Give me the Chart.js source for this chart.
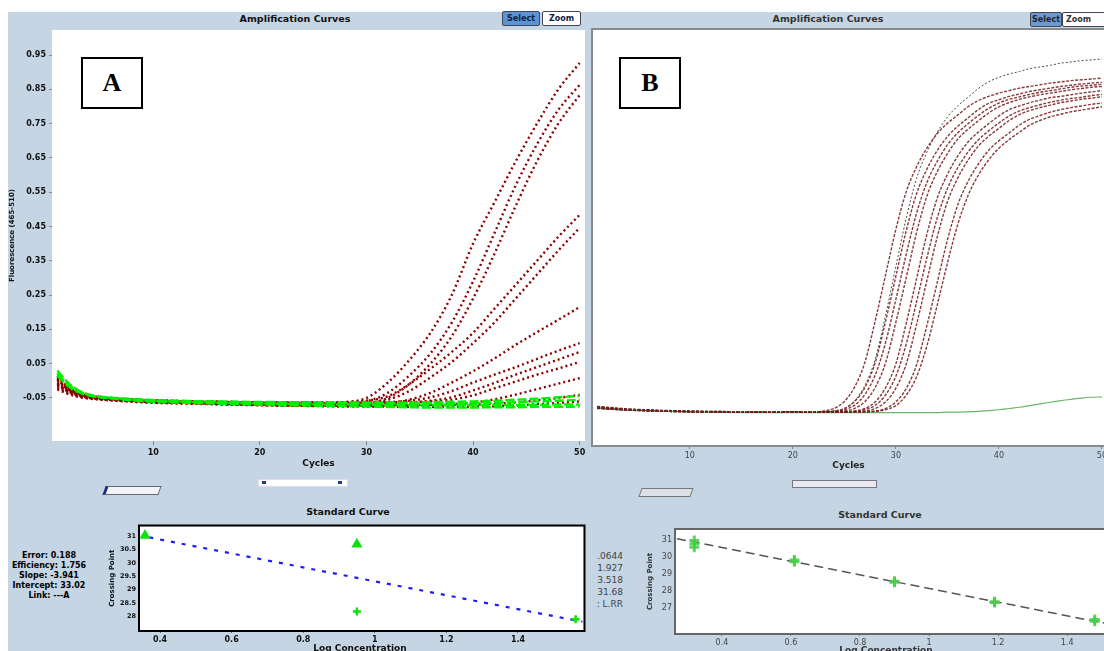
<!DOCTYPE html>
<html>
<head>
<meta charset="utf-8">
<script src="https://cdn.jsdelivr.net/npm/chart.js@4.4.1/dist/chart.umd.min.js"></script>
<style>
body{margin:0;width:1104px;height:651px;overflow:hidden;background:#fff;position:relative;font-family:"DejaVu Sans",sans-serif}
#bg{position:absolute;left:8px;top:12px;width:1096px;height:639px;background:#c5d5e4}
canvas{position:absolute}
.t{position:absolute;white-space:nowrap;color:#111}
.ttl{font-weight:bold;font-size:9.5px;text-align:center}
.btn{position:absolute;height:13px;line-height:13px;font-size:8px;font-weight:bold;text-align:center;border:1px solid #445;border-radius:2px;color:#102040}
.lbl{position:absolute;width:58px;height:48px;border:2px solid #000;background:#fff;font:bold 26px "Liberation Serif",serif;text-align:center;line-height:48px}
.sl{position:absolute}
.stat{position:absolute;font-size:8px;line-height:10px;white-space:nowrap}
</style>
</head>
<body>
<div id="bg"></div>

<div class="t ttl" style="left:195px;top:13px;width:200px">Amplification Curves</div>
<div class="t ttl" style="left:728px;top:13px;width:200px;color:#333">Amplification Curves</div>
<div class="btn" style="left:502px;top:11px;width:36px;background:#5b94d6">Select</div>
<div class="btn" style="left:542px;top:11px;width:37px;background:#fff">Zoom</div>
<div class="btn" style="left:1030px;top:12px;width:30px;background:#6b9ad0;color:#223">Select</div>
<div class="btn" style="left:1062px;top:12px;width:50px;background:#fff;color:#333;text-align:left;padding-left:3px">Zoom</div>

<canvas id="ampA" width="580" height="441" style="left:8px;top:28px"></canvas>
<canvas id="ampB" width="530" height="443" style="left:590px;top:28px"></canvas>
<canvas id="stdA" width="482" height="131" style="left:108px;top:520px"></canvas>
<canvas id="stdB" width="474" height="129" style="left:646px;top:522px"></canvas>

<div class="lbl" style="left:81px;top:57px">A</div>
<div class="lbl" style="left:619px;top:57px">B</div>

<div class="sl" style="left:104px;top:486px;width:52px;height:7px;background:#f2f4f6;border:1px solid #667;border-left:3px solid #1a2a80;transform:skewX(-20deg)"></div>
<div class="sl" style="left:258px;top:479px;width:88px;height:6px;background:#fff;border:1px solid #dde"></div>
<div class="sl" style="left:262px;top:481px;width:4px;height:3px;background:#223a90"></div>
<div class="sl" style="left:338px;top:481px;width:4px;height:3px;background:#223a90"></div>
<div class="sl" style="left:640px;top:488px;width:50px;height:7px;background:#dde1e6;border:1px solid #777;transform:skewX(-20deg)"></div>
<div class="sl" style="left:792px;top:480px;width:83px;height:6px;background:#e8eaee;border:1px solid #778"></div>

<div class="t ttl" style="left:248px;top:506px;width:200px">Standard Curve</div>
<div class="t ttl" style="left:780px;top:509px;width:200px;color:#333">Standard Curve</div>
<div class="t" style="left:300px;top:643px;width:120px;text-align:center;font-size:9px;font-weight:bold">Log Concentration</div>
<div class="t" style="left:826px;top:645px;width:120px;text-align:center;font-size:9px;font-weight:bold;color:#333">Log Concentration</div>

<div class="stat" style="left:10px;top:551px;width:78px;text-align:center;font-weight:bold">
Error: 0.188<br>Efficiency: 1.756<br>Slope: -3.941<br>Intercept: 33.02<br>Link: ---A
</div>
<div style="position:absolute;left:597px;top:550px;width:30px;height:60px;overflow:hidden">
<div class="stat" style="right:4px;top:0;text-align:right;color:#444;font-size:9px;line-height:12px">
Error: 0.0644<br>Efficiency: 1.927<br>Slope: -3.518<br>Intercept: 31.68<br>Link: L.RR
</div>
</div>

<script>
// ---------- panel A: amplification (cycles vs fluorescence) ----------
var cyclesA = [1,2,3,4,6,8,10,14,18,22,26,28,30,32,34,36,38,40,42,44,46,48,50];
var xTicksA = [10,20,30,40,50];
var yTicksA = [-0.05,0.05,0.15,0.25,0.35,0.45,0.55,0.65,0.75,0.85,0.95];
var yTickLabelsA = ['-0.05','0.05','0.15','0.25','0.35','0.45','0.55','0.65','0.75','0.85','0.95'];

var redA1 = [0.005,-0.025,-0.038,-0.046,-0.052,-0.056,-0.058,-0.06,-0.063,-0.064,-0.064,-0.062,-0.05,-0.005,0.06,0.14,0.25,0.40,0.52,0.64,0.75,0.85,0.927];
var redA2 = [-0.01,-0.03,-0.042,-0.048,-0.054,-0.058,-0.06,-0.063,-0.066,-0.068,-0.068,-0.068,-0.06,-0.035,0.015,0.08,0.17,0.29,0.43,0.57,0.69,0.79,0.863];
var redA3 = [-0.015,-0.032,-0.044,-0.05,-0.055,-0.058,-0.061,-0.064,-0.067,-0.07,-0.071,-0.07,-0.066,-0.05,-0.01,0.05,0.13,0.24,0.37,0.51,0.64,0.75,0.833];
var redA4 = [0.01,-0.02,-0.036,-0.045,-0.052,-0.055,-0.057,-0.06,-0.062,-0.063,-0.063,-0.062,-0.058,-0.045,-0.01,0.035,0.084,0.14,0.21,0.28,0.35,0.42,0.484];
var redA5 = [-0.005,-0.027,-0.04,-0.047,-0.053,-0.057,-0.06,-0.062,-0.065,-0.066,-0.067,-0.066,-0.064,-0.055,-0.03,0.01,0.055,0.11,0.17,0.24,0.31,0.38,0.446];
var redA6 = [-0.02,-0.035,-0.045,-0.05,-0.056,-0.06,-0.063,-0.066,-0.069,-0.071,-0.072,-0.072,-0.07,-0.066,-0.055,-0.035,-0.005,0.028,0.065,0.105,0.142,0.178,0.215];
var redA7 = [0.0,-0.024,-0.037,-0.045,-0.051,-0.055,-0.058,-0.061,-0.063,-0.064,-0.065,-0.065,-0.064,-0.062,-0.058,-0.048,-0.03,-0.005,0.018,0.04,0.064,0.088,0.11];
var redA8 = [-0.012,-0.03,-0.041,-0.048,-0.054,-0.058,-0.061,-0.064,-0.066,-0.068,-0.069,-0.069,-0.068,-0.067,-0.064,-0.058,-0.048,-0.028,-0.006,0.018,0.04,0.062,0.084];
var redA9 = [0.015,-0.018,-0.034,-0.043,-0.05,-0.054,-0.057,-0.06,-0.062,-0.063,-0.064,-0.064,-0.064,-0.063,-0.062,-0.06,-0.055,-0.042,-0.022,-0.002,0.018,0.036,0.055];
var redA10 = [-0.025,-0.038,-0.047,-0.052,-0.057,-0.061,-0.064,-0.067,-0.07,-0.072,-0.073,-0.073,-0.073,-0.072,-0.071,-0.07,-0.068,-0.064,-0.054,-0.04,-0.024,-0.008,0.008];
var redA11 = [-0.008,-0.03,-0.042,-0.049,-0.055,-0.059,-0.062,-0.065,-0.068,-0.07,-0.071,-0.071,-0.071,-0.071,-0.07,-0.07,-0.07,-0.069,-0.067,-0.063,-0.057,-0.05,-0.041];
var redA12 = [0.005,-0.022,-0.036,-0.045,-0.052,-0.057,-0.061,-0.065,-0.069,-0.072,-0.074,-0.075,-0.075,-0.075,-0.076,-0.076,-0.076,-0.075,-0.074,-0.072,-0.068,-0.064,-0.06];
var greenA1 = [0.03,-0.005,-0.028,-0.04,-0.05,-0.055,-0.058,-0.062,-0.065,-0.067,-0.069,-0.069,-0.07,-0.07,-0.071,-0.071,-0.071,-0.071,-0.07,-0.07,-0.07,-0.069,-0.069];
var greenA2 = [0.015,-0.015,-0.033,-0.043,-0.05,-0.054,-0.057,-0.06,-0.062,-0.064,-0.065,-0.065,-0.066,-0.066,-0.066,-0.066,-0.066,-0.065,-0.064,-0.062,-0.06,-0.058,-0.055];
var greenA3 = [0.02,-0.01,-0.03,-0.042,-0.051,-0.057,-0.061,-0.065,-0.068,-0.071,-0.073,-0.074,-0.075,-0.076,-0.077,-0.078,-0.078,-0.078,-0.077,-0.077,-0.076,-0.076,-0.075];
var greenA4 = [0.022,-0.012,-0.031,-0.041,-0.049,-0.053,-0.056,-0.059,-0.061,-0.062,-0.063,-0.063,-0.063,-0.063,-0.063,-0.062,-0.061,-0.06,-0.058,-0.055,-0.052,-0.048,-0.044];

// ---------- panel B: amplification ----------
var cyclesB = [1,4,8,12,16,20,21,22,23,24,25,26,27,28,29,30,31,32,33,34,35,36,37,38,39,40,41,42,43,44,45,46,47,48,49,50];
var xTicksB = [10,20,30,40,50];

var redB1 = [9.1,8.6,8.2,8.0,8.0, 8,8,8,8.2,8.8,10.5,14,20,30,41,52,61,67,71.5,75,77.5,79.5,81.5,83,84,84.8,85.4,86,86.4,86.8,87.2,87.5,87.8,88,88.2,88.4];
var redB2 = [8.9,8.5,8.2,8.0,7.9, 8,8,8,8,8.2,8.8,10.5,13.9,19.9,29.8,40.7,51.6,60.5,66.4,70.9,74.3,76.8,78.8,80.8,82.3,83.2,84.0,84.6,85.2,85.6,86.0,86.4,86.7,87.0,87.2,87.4];
var redB3 = [9.3,8.7,8.3,8.1,8.0, 8,8,8,8,8.1,8.5,9.6,12.2,16.9,24.7,35.1,45.9,55.8,63.2,68.3,72.3,75.2,77.4,79.4,81.1,82.4,83.3,83.9,84.5,85.0,85.4,85.8,86.2,86.5,86.7,86.9];
var redB4 = [9.0,8.5,8.1,8.0,8.0, 8,8,8,8,8,8.2,8.8,10.5,13.9,19.8,29.6,40.3,51.1,59.9,65.8,70.2,73.7,76.1,78.1,80.0,81.5,82.5,83.3,83.9,84.4,84.8,85.2,85.6,85.9,86.2,86.4];
var redB5 = [8.8,8.4,8.1,7.9,7.9, 8,8,8,8,8,8,8.2,8.8,10.4,13.8,19.6,29.3,40.0,50.7,59.4,65.2,69.6,73.0,75.4,77.4,79.3,80.8,81.7,82.5,83.1,83.7,84.0,84.4,84.8,85.1,85.4];
var redB6 = [9.2,8.6,8.2,8.0,8.0, 8,8,8,8,8,8,8.1,8.5,9.6,12.1,16.6,24.3,34.4,45.0,54.6,61.8,66.8,70.6,73.5,75.7,77.6,79.3,80.5,81.3,82.0,82.6,83.1,83.5,83.8,84.2,84.5];
var redB7 = [9.0,8.5,8.2,8.1,8.0, 8,8,8,8,8,8,8,8.2,8.8,10.4,13.7,19.5,29.0,39.5,50.0,58.6,64.3,68.6,72.0,74.4,76.3,78.2,79.6,80.6,81.3,81.9,82.5,82.9,83.3,83.6,83.9];
var redB8 = [8.9,8.4,8.1,8.0,8.0, 8,8,8,8,8,8,8,8,8.2,8.8,10.4,13.6,19.3,28.7,39.0,49.4,57.8,63.5,67.7,71.0,73.3,75.2,77.1,78.5,79.4,80.2,80.8,81.3,81.7,82.1,82.4];
var redB9 = [9.1,8.6,8.2,8.0,8.0, 8,8,8,8,8,8,8,8,8.1,8.5,9.5,12.0,16.4,23.8,33.6,43.8,53.1,60.1,65.0,68.7,71.5,73.6,75.4,77.1,78.2,79.1,79.7,80.3,80.7,81.1,81.5];
var thinB = [9.0,8.5,8.1,8.0,8.0, 8,8,8,8,8.2,8.8,10.7,14.4,20.7,31.3,43.0,54.6,64.2,70.5,75.3,79.0,81.7,83.8,85.9,87.5,88.6,89.4,90.0,90.7,91.1,91.5,92.0,92.3,92.6,92.8,93.0];
var greenB = [8.8,8.4,8.1,7.9,7.8, 7.8,7.8,7.8,7.8,7.8,7.8,7.8,7.8,7.8,7.8,7.8,7.8,7.8,7.8,7.8,7.9,7.9,8.0,8.1,8.3,8.5,8.8,9.1,9.5,9.9,10.3,10.7,11.0,11.3,11.5,11.6];

// ---------- standard curves ----------
var stdXTicks = [0.4,0.6,0.8,1.0,1.2,1.4];
var stdXLabels = ['0.4','0.6','0.8','1','1.2','1.4'];
var stdAYTicks = [28,28.5,29,29.5,30,30.5,31];
var stdAYLabels = ['28','28.5','29','29.5','30','30.5','31'];
var stdALogConc = [0.358,0.95,0.95,1.561];
var stdACp = [31.03,30.7,28.18,27.89];
var stdAFitX = [0.37,1.58];
var stdAFitY = [30.96,27.8];

var stdBYTicks = [27,28,29,30,31];
var stdBLogConc = [0.32,0.32,0.32,0.61,0.61,0.9,0.9,1.19,1.19,1.48,1.48];
var stdBCp = [30.95,30.75,30.55,29.8,29.7,28.55,28.5,27.35,27.3,26.3,26.2];
var stdBFitX = [0.27,1.53];
var stdBFitY = [31.06,26.0];

function pts(xs, ys) { return xs.map(function (x, i) { return {x: x, y: ys[i]}; }); }

// white plot background + optional frame
var frame = {
  id: 'frame',
  beforeDraw: function (chart) {
    var a = chart.chartArea, c = chart.ctx;
    c.save(); c.fillStyle = '#fff';
    c.fillRect(a.left, a.top, a.right - a.left, a.bottom - a.top);
    c.restore();
  },
  afterDraw: function (chart, args, opts) {
    if (!opts.color) return;
    var a = chart.chartArea, c = chart.ctx;
    c.save(); c.strokeStyle = opts.color; c.lineWidth = opts.width || 2;
    c.strokeRect(a.left - 1, a.top - 1, a.right - a.left + 2 + (opts.extra || 0), a.bottom - a.top + 2);
    c.restore();
  }
};

Chart.defaults.font.family = 'DejaVu Sans';
Chart.defaults.animation = false;
Chart.defaults.events = [];
Chart.defaults.plugins.legend.display = false;
Chart.defaults.plugins.tooltip.enabled = false;

function fixedTicks(list) { return function (s) { s.ticks = list.map(function (v) { return {value: v}; }); }; }
// fixed axis thickness, no label overhang padding
function fitY(w) { return function (s) { s.width = w; s.paddingTop = 0; s.paddingBottom = 0; }; }
function fitX(h) { return function (s) { s.height = h; s.paddingLeft = 0; s.paddingRight = 0; }; }

function redA(d) {
  return {data: pts(cyclesA, d), borderColor: '#8b0000', borderWidth: 2.4, borderDash: [2, 3],
    pointRadius: 0, cubicInterpolationMode: 'monotone', order: 2};
}
function greenA(d) {
  return {data: pts(cyclesA, d), borderColor: '#00f000', borderWidth: 2.4, borderDash: [9, 3],
    pointRadius: 0, cubicInterpolationMode: 'monotone', order: 1};
}

new Chart(document.getElementById('ampA'), {
  type: 'line',
  data: {datasets: [
    greenA(greenA1), greenA(greenA2), greenA(greenA3), greenA(greenA4),
    redA(redA1), redA(redA2), redA(redA3), redA(redA4), redA(redA5), redA(redA6),
    redA(redA7), redA(redA8), redA(redA9), redA(redA10), redA(redA11), redA(redA12)
  ]},
  options: {
    responsive: false,
    layout: {padding: {top: 2, right: 3, left: 0, bottom: 0}},
    plugins: {frame: {}},
    scales: {
      x: {type: 'linear', min: 0.5, max: 50.5, afterBuildTicks: fixedTicks(xTicksA),
        ticks: {color: '#111', font: {size: 8, weight: 'bold'}, padding: 3, maxRotation: 0, autoSkip: false},
        grid: {drawOnChartArea: false, tickLength: 4, color: '#888'}, border: {display: false},
        title: {display: true, text: 'Cycles', color: '#111', font: {size: 9, weight: 'bold'}, padding: 0},
        afterFit: fitX(28)},
      y: {type: 'linear', min: -0.1754, max: 1.0229, afterBuildTicks: fixedTicks(yTicksA),
        ticks: {color: '#111', font: {size: 8, weight: 'bold'}, padding: 3, autoSkip: false,
          callback: function (v, i) { return yTickLabelsA[i]; }},
        grid: {drawOnChartArea: false, tickLength: 3, color: '#888'}, border: {display: false},
        title: {display: true, text: 'Fluorescence (465-510)', color: '#111', font: {size: 7, weight: 'bold'}, padding: 0},
        afterFit: fitY(44)}
    }
  },
  plugins: [frame]
});

function redB(d) {
  return {data: pts(cyclesB, d), borderColor: 'rgba(115,22,22,0.85)', borderWidth: 1.4, borderDash: [3, 1.5],
    pointRadius: 0, cubicInterpolationMode: 'monotone', order: 2};
}

new Chart(document.getElementById('ampB'), {
  type: 'line',
  data: {datasets: [
    {data: pts(cyclesB, thinB), borderColor: '#4a4a4a', borderWidth: 1, borderDash: [2, 2],
      pointRadius: 0, cubicInterpolationMode: 'monotone', order: 1},
    redB(redB1), redB(redB2), redB(redB3), redB(redB4), redB(redB5), redB(redB6),
    redB(redB7), redB(redB8), redB(redB9),
    {data: pts(cyclesB, greenB), borderColor: 'rgba(80,170,80,0.85)', borderWidth: 1.2,
      pointRadius: 0, cubicInterpolationMode: 'monotone', order: 3}
  ]},
  options: {
    responsive: false,
    layout: {padding: {top: 2, right: 16, left: 3, bottom: 0}},
    plugins: {frame: {color: '#8a8a8a', width: 2, extra: 20}},
    scales: {
      x: {type: 'linear', min: 0.6, max: 50.2, afterBuildTicks: fixedTicks(xTicksB),
        ticks: {color: '#444', font: {size: 8}, padding: 2, maxRotation: 0, autoSkip: false},
        grid: {drawOnChartArea: false, tickLength: 4, color: '#888'}, border: {display: false},
        title: {display: true, text: 'Cycles', color: '#222', font: {size: 9, weight: 'bold'}, padding: 0},
        afterFit: fitX(26)},
      y: {type: 'linear', min: 0, max: 100, display: false}
    }
  },
  plugins: [frame]
});

new Chart(document.getElementById('stdA'), {
  type: 'scatter',
  data: {datasets: [
    {data: pts(stdAFitX, stdAFitY), showLine: true, borderColor: '#1c1cff', borderWidth: 2.2,
      borderDash: [4, 7], pointRadius: 0, order: 2},
    {data: pts(stdALogConc, stdACp), pointBackgroundColor: '#10e010', pointBorderColor: '#10e010',
      pointStyle: function (c) { return c.dataIndex < 2 ? 'triangle' : 'cross'; },
      pointRadius: 4, pointBorderWidth: 2.5, order: 1}
  ]},
  options: {
    responsive: false,
    layout: {padding: {top: 4, right: 3, left: 0, bottom: 0}},
    plugins: {frame: {color: '#000', width: 2}},
    scales: {
      x: {min: 0.344, max: 1.583, afterBuildTicks: fixedTicks(stdXTicks),
        ticks: {color: '#111', font: {size: 8, weight: 'bold'}, padding: 2, maxRotation: 0, autoSkip: false,
          callback: function (v, i) { return stdXLabels[i]; }},
        grid: {drawOnChartArea: false, tickLength: 3, color: '#666'}, border: {display: false},
        afterFit: fitX(21)},
      y: {min: 27.49, max: 31.37, afterBuildTicks: fixedTicks(stdAYTicks),
        ticks: {color: '#111', font: {size: 6.5, weight: 'bold'}, padding: 2, autoSkip: false,
          callback: function (v, i) { return stdAYLabels[i]; }},
        grid: {drawOnChartArea: false, tickLength: 2, color: '#666'}, border: {display: false},
        title: {display: true, text: 'Crossing Point', color: '#111', font: {size: 7, weight: 'bold'}, padding: 0},
        afterFit: fitY(32)}
    }
  },
  plugins: [frame]
});

new Chart(document.getElementById('stdB'), {
  type: 'scatter',
  data: {datasets: [
    {data: pts(stdBFitX, stdBFitY), showLine: true, borderColor: '#555', borderWidth: 1.5,
      borderDash: [9, 5], pointRadius: 0, order: 2},
    {data: pts(stdBLogConc, stdBCp), pointStyle: 'cross', pointBorderColor: 'rgba(70,205,70,0.85)',
      pointRadius: 5, pointBorderWidth: 3, order: 1}
  ]},
  options: {
    responsive: false,
    layout: {padding: {top: 5, right: 8, left: 0, bottom: 0}},
    plugins: {frame: {color: '#666', width: 2}},
    scales: {
      x: {min: 0.267, max: 1.53, afterBuildTicks: fixedTicks(stdXTicks),
        ticks: {color: '#444', font: {size: 8}, padding: 2, maxRotation: 0, autoSkip: false,
          callback: function (v, i) { return stdXLabels[i]; }},
        grid: {drawOnChartArea: false, tickLength: 3, color: '#777'}, border: {display: false},
        afterFit: fitX(18)},
      y: {min: 25.51, max: 31.57, afterBuildTicks: fixedTicks(stdBYTicks),
        ticks: {color: '#444', font: {size: 8}, padding: 2, autoSkip: false},
        grid: {drawOnChartArea: false, tickLength: 2, color: '#777'}, border: {display: false},
        title: {display: true, text: 'Crossing Point', color: '#333', font: {size: 7, weight: 'bold'}, padding: 0},
        afterFit: fitY(30)}
    }
  },
  plugins: [frame]
});
</script>
</body>
</html>
